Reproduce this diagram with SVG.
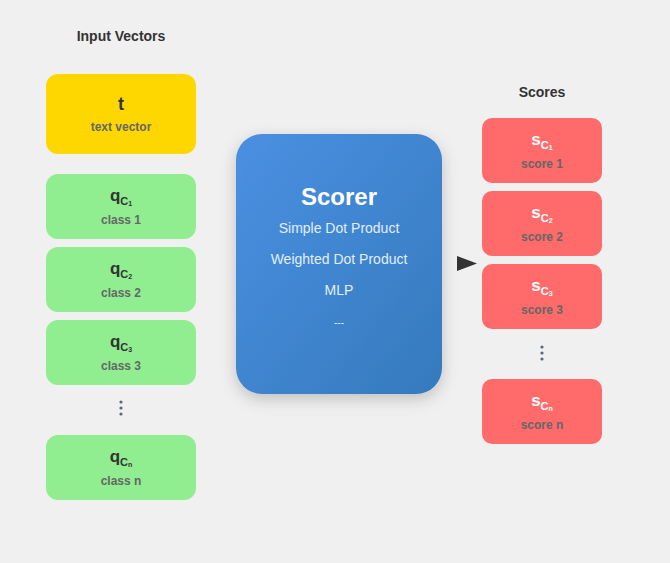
<svg xmlns="http://www.w3.org/2000/svg" width="670" height="563" viewBox="0 0 670 563">
<defs>
<linearGradient id="blue" x1="0" y1="0" x2="1" y2="1">
<stop offset="0" stop-color="#4A90E2"/>
<stop offset="1" stop-color="#357ABD"/>
</linearGradient>
<filter id="sh" x="-30%" y="-30%" width="160%" height="160%">
<feDropShadow dx="0" dy="5" stdDeviation="8" flood-color="#000" flood-opacity="0.2"/>
</filter>
<style>
text{font-family:"Liberation Sans",Arial,sans-serif;text-anchor:middle}
.title{font-size:14px;font-weight:bold;fill:#333}
.yel{fill:#FFD700}
.grn{fill:#90EE90}
.red{fill:#FF6B6B}
.main{font-size:17px;font-weight:bold;fill:#333}
.sub{font-size:12px;font-weight:bold;fill:#666}
.mainw{font-size:17px;font-weight:bold;fill:#fff}
.subr{font-size:12px;font-weight:bold;fill:#666}
.s1{font-size:11px}
.s2{font-size:7px}
.dot{fill:#5b6878}
.alg{font-size:14px;fill:#e3eefa}
</style>
</defs>
<rect width="670" height="563" fill="#f0f0f0"/>
<text class="title" x="121" y="41">Input Vectors</text>
<text class="title" x="542" y="97">Scores</text>

<g id="t">
<rect class="yel" x="46" y="74" width="150" height="80" rx="12"/>
<text x="121" y="110" style="font-size:18px;font-weight:bold;fill:#333">t</text>
<text class="sub" x="121" y="131">text vector</text>
</g>
<g id="q1">
<rect class="grn" x="46" y="174" width="150" height="65" rx="12"/>
<text class="main" x="121" y="201">q<tspan class="s1" dy="4">C</tspan><tspan class="s2" dy="1">1</tspan></text>
<text class="sub" x="121" y="224">class 1</text>
</g>
<g id="q2">
<rect class="grn" x="46" y="247" width="150" height="65" rx="12"/>
<text class="main" x="121" y="274">q<tspan class="s1" dy="4">C</tspan><tspan class="s2" dy="1">2</tspan></text>
<text class="sub" x="121" y="297">class 2</text>
</g>
<g id="q3">
<rect class="grn" x="46" y="320" width="150" height="65" rx="12"/>
<text class="main" x="121" y="347">q<tspan class="s1" dy="4">C</tspan><tspan class="s2" dy="1">3</tspan></text>
<text class="sub" x="121" y="370">class 3</text>
</g>
<g id="qdots">
<circle class="dot" cx="121" cy="402" r="1.6"/>
<circle class="dot" cx="121" cy="408" r="1.6"/>
<circle class="dot" cx="121" cy="414" r="1.6"/>
</g>
<g id="qn">
<rect class="grn" x="46" y="435" width="150" height="65" rx="12"/>
<text class="main" x="121" y="462">q<tspan class="s1" dy="4">C</tspan><tspan class="s2" dy="1">n</tspan></text>
<text class="sub" x="121" y="485">class n</text>
</g>

<g id="scorer">
<rect x="236" y="134" width="206" height="260" rx="26" fill="url(#blue)" filter="url(#sh)"/>
<text x="339" y="205" style="font-size:24px;font-weight:bold;fill:#fff">Scorer</text>
<text class="alg" x="339" y="233">Simple Dot Product</text>
<text class="alg" x="339" y="264">Weighted Dot Product</text>
<text class="alg" x="339" y="295">MLP</text>
<text class="alg" x="339" y="326" style="font-size:10px">---</text>
</g>

<g id="s1">
<rect class="red" x="482" y="118" width="120" height="65" rx="10"/>
<text class="mainw" x="542" y="145">s<tspan class="s1" dy="4">C</tspan><tspan class="s2" dy="1">1</tspan></text>
<text class="subr" x="542" y="168">score 1</text>
</g>
<g id="s2">
<rect class="red" x="482" y="191" width="120" height="65" rx="10"/>
<text class="mainw" x="542" y="218">s<tspan class="s1" dy="4">C</tspan><tspan class="s2" dy="1">2</tspan></text>
<text class="subr" x="542" y="241">score 2</text>
</g>
<g id="s3">
<rect class="red" x="482" y="264" width="120" height="65" rx="10"/>
<text class="mainw" x="542" y="291">s<tspan class="s1" dy="4">C</tspan><tspan class="s2" dy="1">3</tspan></text>
<text class="subr" x="542" y="314">score 3</text>
</g>
<g id="sdots">
<circle class="dot" cx="542" cy="347" r="1.6"/>
<circle class="dot" cx="542" cy="353" r="1.6"/>
<circle class="dot" cx="542" cy="359" r="1.6"/>
</g>
<g id="sn">
<rect class="red" x="482" y="379" width="120" height="65" rx="10"/>
<text class="mainw" x="542" y="406">s<tspan class="s1" dy="4">C</tspan><tspan class="s2" dy="1">n</tspan></text>
<text class="subr" x="542" y="429">score n</text>
</g>

<g id="connectors">
<polygon points="457,256 477,263.5 457,271" fill="#333"/>
</g>
</svg>
